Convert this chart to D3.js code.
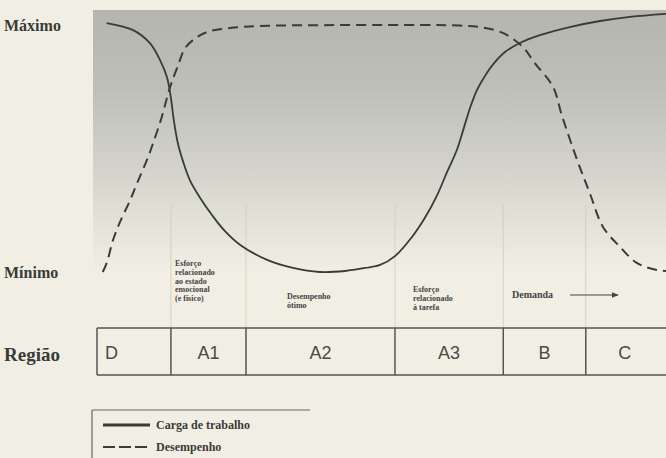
<!DOCTYPE html>
<html>
<head>
<meta charset="utf-8">
<script src="https://cdn.jsdelivr.net/npm/d3@7"></script>
<style>
  html, body { margin: 0; padding: 0; background: #f1efe3; }
  svg { display: block; }
</style>
</head>
<body>
<svg id="chart" width="666" height="458"></svg>
<script>
// Relative position along the demand axis (0–100) and level between Mínimo (0) and Máximo (100)
const cargaX = [2.4, 7.0, 9.9, 11.7, 12.9, 13.6, 14.1, 14.8, 15.7, 16.9, 18.7, 20.9, 23.0, 25.7, 30.4, 34.9, 39.6, 44.0, 47.5, 50.1, 52.7, 55.8, 57.9, 60.0, 61.8, 63.5, 64.6, 65.8, 67.0, 68.4, 70.0, 71.9, 74.5, 78.0, 83.2, 88.5, 93.7, 100];
const cargaY = [98.8, 96.0, 90.9, 84.1, 77.4, 69.0, 60.3, 51.2, 44.0, 36.5, 29.4, 22.2, 16.3, 10.7, 4.8, 1.6, 0, 0.4, 1.6, 2.8, 6.3, 14.3, 21.4, 30.2, 39.7, 48.4, 56.3, 65.1, 72.2, 77.8, 82.9, 87.3, 90.9, 94.0, 97.2, 99.6, 101.2, 102.4];

const desempX = [1.7, 2.4, 3.5, 4.7, 6.5, 7.7, 9.4, 10.5, 12.0, 13.4, 14.8, 16.1, 18.2, 20.4, 23.9, 29.1, 44.9, 57.1, 64.0, 67.5, 71.6, 75.0, 77.1, 80.3, 81.8, 84.5, 86.7, 89.0, 92.0, 94.9, 98.4, 100];
const desempY = [0, 3.6, 12.7, 19.8, 28.6, 35.3, 44.4, 51.2, 61.5, 73.0, 81.7, 88.9, 93.3, 95.6, 96.8, 97.6, 98.0, 98.0, 97.8, 97.2, 94.8, 89.3, 82.9, 73.4, 62.3, 44.4, 31.3, 17.9, 9.9, 3.6, 0.8, 0.4];

// Regions of the demand axis
const regionNames = ["D", "A1", "A2", "A3", "B", "C"];
const regionBounds = [0.7, 13.6, 26.7, 52.7, 71.6, 86.0, 101];

// Notes written above the region table
const noteA1 = ["Esforço", "relacionado", "ao estado", "emocional", "(e físico)"];
const noteA2 = ["Desempenho", "ótimo"];
const noteA3 = ["Esforço", "relacionado", "à tarefa"];
const noteDemanda = "Demanda";

const levelLabels = ["Máximo", "Mínimo"];
const legendLabels = ["Carga de trabalho", "Desempenho"];

const svg = d3.select("#chart");
const W = 666, H = 458;

const x = d3.scaleLinear().domain([0, 100]).range([93, 666]);
const y = d3.scaleLinear().domain([0, 100]).range([272, 20]);

const ink = "#3a3a38";
const serif = "'Liberation Serif', 'DejaVu Serif', serif";
const sans = "'Liberation Sans', Arial, sans-serif";

// Shaded plotting field, fading towards the bottom
const defs = svg.append("defs");
const grad = defs.append("linearGradient")
  .attr("id", "field").attr("x1", 0).attr("y1", 0).attr("x2", 0).attr("y2", 1);
grad.append("stop").attr("offset", "0%").attr("stop-color", "#b4b5af");
grad.append("stop").attr("offset", "30%").attr("stop-color", "#bebfb9");
grad.append("stop").attr("offset", "62%").attr("stop-color", "#d4d4cc");
grad.append("stop").attr("offset", "85%").attr("stop-color", "#e6e5da");
grad.append("stop").attr("offset", "100%").attr("stop-color", "#f1efe3");

svg.append("rect")
  .attr("x", x(0)).attr("y", 10)
  .attr("width", x(100) - x(0)).attr("height", y(0) - 10)
  .attr("fill", "url(#field)");

// Faint guide lines continuing the region borders upward
svg.append("g").selectAll("line")
  .data(regionBounds.slice(1, -1))
  .join("line")
  .attr("x1", d => x(d)).attr("x2", d => x(d))
  .attr("y1", 205).attr("y2", 328)
  .attr("stroke", "#cdcbc0").attr("stroke-width", 0.8);

// Level labels
svg.append("text").text(levelLabels[0])
  .attr("x", 4).attr("y", 31)
  .attr("font-family", serif).attr("font-weight", "bold").attr("font-size", 16)
  .attr("fill", ink);
svg.append("text").text(levelLabels[1])
  .attr("x", 4).attr("y", 278)
  .attr("font-family", serif).attr("font-weight", "bold").attr("font-size", 16)
  .attr("fill", ink);

// Curves
const line = d3.line().x(d => x(d[0])).y(d => y(d[1])).curve(d3.curveCatmullRom.alpha(0.5));
const carga = d3.zip(cargaX, cargaY);
const desemp = d3.zip(desempX, desempY);

svg.append("path").datum(desemp)
  .attr("d", line)
  .attr("fill", "none").attr("stroke", ink).attr("stroke-width", 2)
  .attr("stroke-dasharray", "10,6");

svg.append("path").datum(carga)
  .attr("d", line)
  .attr("fill", "none").attr("stroke", ink).attr("stroke-width", 1.8);

// Notes
function note(lines, px, py, size, lh) {
  const t = svg.append("text")
    .attr("font-family", serif).attr("font-weight", "bold")
    .attr("font-size", size).attr("fill", "#444");
  lines.forEach((s, i) => {
    t.append("tspan").attr("x", px).attr("y", py + i * lh).text(s);
  });
}
note(noteA1, 175, 266, 8, 8.8);
note(noteA2, 287, 299, 8, 8.8);
note(noteA3, 413, 292, 8, 8.8);

svg.append("text").text(noteDemanda)
  .attr("x", 512).attr("y", 298)
  .attr("font-family", serif).attr("font-weight", "bold").attr("font-size", 10)
  .attr("fill", "#444");
defs.append("marker").attr("id", "arrow")
  .attr("viewBox", "0 0 10 10").attr("refX", 9).attr("refY", 5)
  .attr("markerWidth", 6).attr("markerHeight", 6).attr("orient", "auto")
  .append("path").attr("d", "M0,1 L10,5 L0,9 Z").attr("fill", "#444");
svg.append("line")
  .attr("x1", 570).attr("x2", 618).attr("y1", 295).attr("y2", 295)
  .attr("stroke", "#444").attr("stroke-width", 1.2)
  .attr("marker-end", "url(#arrow)");

// Region table
const tTop = 328, tBot = 375;
const table = svg.append("g");
table.append("line")
  .attr("x1", x(regionBounds[0])).attr("x2", W).attr("y1", tTop).attr("y2", tTop)
  .attr("stroke", "#555").attr("stroke-width", 1.5);
table.append("line")
  .attr("x1", x(regionBounds[0])).attr("x2", W).attr("y1", tBot).attr("y2", tBot)
  .attr("stroke", "#555").attr("stroke-width", 1.5);
table.selectAll("line.div")
  .data(regionBounds.slice(0, -1))
  .join("line").attr("class", "div")
  .attr("x1", d => x(d)).attr("x2", d => x(d))
  .attr("y1", tTop).attr("y2", tBot)
  .attr("stroke", "#555").attr("stroke-width", 1.5);
table.selectAll("text")
  .data(regionNames)
  .join("text")
  .attr("x", (d, i) => i === 0 ? x(regionBounds[0]) + 8 : (x(regionBounds[i]) + x(regionBounds[i + 1])) / 2 - (i === 5 ? 4 : 0))
  .attr("text-anchor", (d, i) => i === 0 ? "start" : "middle")
  .attr("y", 359)
  .attr("font-family", sans).attr("font-size", 18)
  .attr("fill", "#4a4a48")
  .text(d => d);

svg.append("text").text("Região")
  .attr("x", 4).attr("y", 361)
  .attr("font-family", serif).attr("font-weight", "bold").attr("font-size", 19)
  .attr("fill", ink);

// Legend
const lg = svg.append("g");
lg.append("line").attr("x1", 92).attr("x2", 310).attr("y1", 410).attr("y2", 410)
  .attr("stroke", "#666").attr("stroke-width", 1.2);
lg.append("line").attr("x1", 92).attr("x2", 92).attr("y1", 410).attr("y2", H)
  .attr("stroke", "#666").attr("stroke-width", 1.2);
lg.append("line").attr("x1", 103).attr("x2", 150).attr("y1", 425).attr("y2", 425)
  .attr("stroke", ink).attr("stroke-width", 2.8);
lg.append("line").attr("x1", 103).attr("x2", 150).attr("y1", 447).attr("y2", 447)
  .attr("stroke", ink).attr("stroke-width", 2.2).attr("stroke-dasharray", "12,4");
lg.selectAll("text")
  .data(legendLabels)
  .join("text")
  .attr("x", 156).attr("y", (d, i) => 429 + i * 22)
  .attr("font-family", serif).attr("font-weight", "bold").attr("font-size", 12)
  .attr("fill", ink)
  .text(d => d);
</script>
</body>
</html>
